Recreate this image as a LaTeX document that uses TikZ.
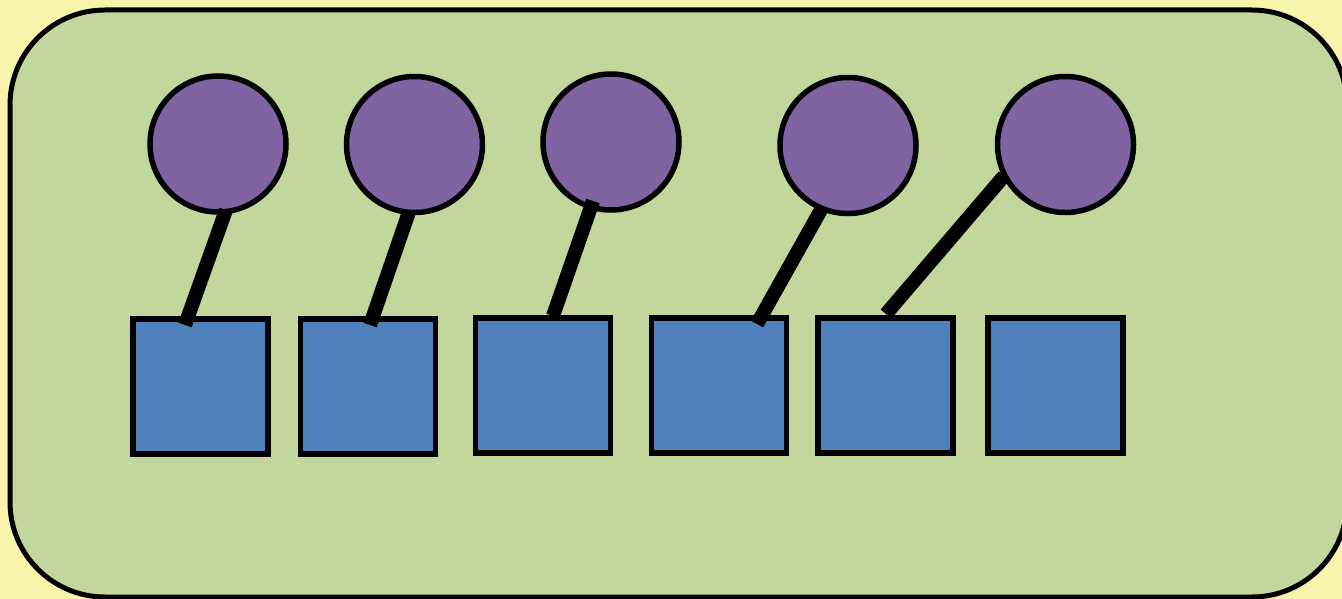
\documentclass[tikz,border=0pt]{standalone}
\definecolor{bgyellow}{HTML}{F9F4AC}
\definecolor{panelgreen}{HTML}{C3D69B}
\definecolor{ballpurple}{HTML}{8064A2}
\definecolor{boxblue}{HTML}{4F81BD}
\tikzset{
  panel/.style={draw=black, line width=5pt, fill=panelgreen, rounded corners=95pt},
  ball/.style={circle, draw=black, line width=5.5pt, fill=ballpurple, minimum size=136pt, inner sep=0pt},
  box/.style={rectangle, draw=black, line width=5.5pt, fill=boxblue, minimum size=135pt, inner sep=0pt},
  stick/.style={draw=black, line width=14pt, line cap=butt}
}
\begin{document}
\begin{tikzpicture}[x=1pt,y=-1pt]
\fill[bgyellow] (0,0) rectangle (1342,599);
\useasboundingbox (0,0) rectangle (1342,599);
\draw[panel] (10,10) rectangle (1347,597);
% balls
\node[ball] (c1) at (218,144) {};
\node[ball] (c2) at (414.5,144.5) {};
\node[ball] (c3) at (611,142) {};
\node[ball] (c4) at (848,145.5) {};
\node[ball] (c5) at (1065.5,144.5) {};
% boxes
\node[box] (s1) at (200.5,386.5) {};
\node[box] (s2) at (368,386.5) {};
\node[box] (s3) at (543,385.5) {};
\node[box] (s4) at (719,385.5) {};
\node[box] (s5) at (885.5,385.5) {};
\node[box] (s6) at (1055.5,385.5) {};
% stick ends
\coordinate (a1) at (226,210);
\coordinate (b1) at (185,325);
\coordinate (a2) at (409,212);
\coordinate (b2) at (370,325);
\coordinate (a3) at (593,201);
\coordinate (b3) at (553,316);
\coordinate (a4) at (822,208);
\coordinate (b4) at (757,324);
\coordinate (a5) at (1004,176);
\coordinate (b5) at (886,314);
\draw[stick] (a1) -- (b1);
\draw[stick] (a2) -- (b2);
\draw[stick] (a3) -- (b3);
\draw[stick] (a4) -- (b4);
\draw[stick] (a5) -- (b5);
\end{tikzpicture}
\end{document}
